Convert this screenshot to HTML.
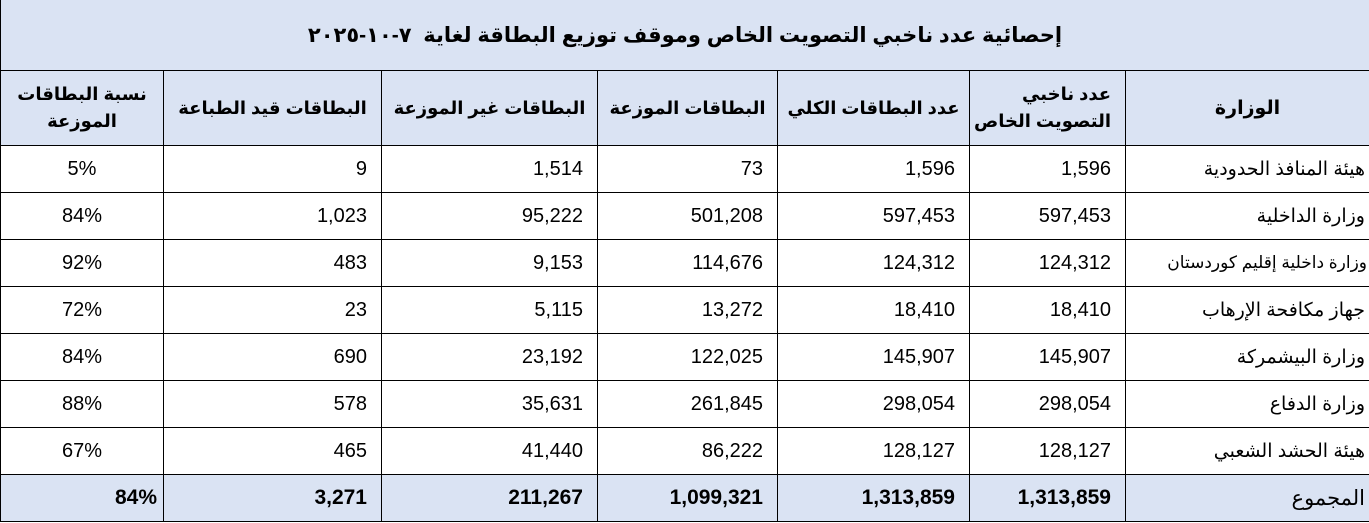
<!DOCTYPE html>
<html><head><meta charset="utf-8"><style>
html,body{margin:0;padding:0;background:#fff;}
table{position:absolute;left:0;top:0;width:1369px;border-collapse:collapse;table-layout:fixed;direction:rtl;font-family:"Liberation Sans",Arial,"DejaVu Sans",sans-serif;font-size:20px;color:#000;}
td{border:1.5px solid #000;padding:0 14px 0 14px;text-align:right;height:46px;white-space:nowrap;overflow:hidden;}
td.a{padding-right:4px;font-size:19px;}
.t td{height:70px;background:#dae3f3;text-align:center;font-weight:bold;font-size:21px;border-top:none;}
.h td{height:74px;background:#dae3f3;font-weight:bold;font-size:18px;text-align:center;line-height:27px;padding:0 4px;}
.f td{background:#dae3f3;font-weight:bold;font-size:21px;}
td.p{text-align:center;direction:ltr;}
.f td.p{text-align:right;padding-right:6px;}
</style></head><body>
<table>
<colgroup><col style="width:244px"><col style="width:156px"><col style="width:192px"><col style="width:180px"><col style="width:216px"><col style="width:218px"><col style="width:163px"></colgroup>
<tr class="t"><td colspan="7">إحصائية عدد ناخبي التصويت الخاص وموقف توزيع البطاقة لغاية &nbsp;٧-١٠-٢٠٢٥</td></tr>
<tr class="h"><td style="font-size:19px">الوزارة</td><td style="text-align:right;padding-right:14px">عدد ناخبي<br>التصويت الخاص</td><td>عدد البطاقات الكلي</td><td>البطاقات الموزعة</td><td>البطاقات غير الموزعة</td><td>البطاقات قيد الطباعة</td><td>نسبة البطاقات<br>الموزعة</td></tr>
</table>
<table style="top:145px">
<colgroup><col style="width:244px"><col style="width:156px"><col style="width:192px"><col style="width:180px"><col style="width:216px"><col style="width:218px"><col style="width:163px"></colgroup>
<tr><td class="a">هيئة المنافذ الحدودية</td><td>1,596</td><td>1,596</td><td>73</td><td>1,514</td><td>9</td><td class="p">5%</td></tr>
<tr><td class="a">وزارة الداخلية</td><td>597,453</td><td>597,453</td><td>501,208</td><td>95,222</td><td>1,023</td><td class="p">84%</td></tr>
<tr><td class="a" style="font-size:17px;padding-right:2px">وزارة داخلية إقليم كوردستان</td><td>124,312</td><td>124,312</td><td>114,676</td><td>9,153</td><td>483</td><td class="p">92%</td></tr>
<tr><td class="a">جهاز مكافحة الإرهاب</td><td>18,410</td><td>18,410</td><td>13,272</td><td>5,115</td><td>23</td><td class="p">72%</td></tr>
<tr><td class="a">وزارة البيشمركة</td><td>145,907</td><td>145,907</td><td>122,025</td><td>23,192</td><td>690</td><td class="p">84%</td></tr>
<tr><td class="a">وزارة الدفاع</td><td>298,054</td><td>298,054</td><td>261,845</td><td>35,631</td><td>578</td><td class="p">88%</td></tr>
<tr><td class="a">هيئة الحشد الشعبي</td><td>128,127</td><td>128,127</td><td>86,222</td><td>41,440</td><td>465</td><td class="p">67%</td></tr>
<tr class="f"><td class="a" style="font-weight:normal">المجموع</td><td>1,313,859</td><td>1,313,859</td><td>1,099,321</td><td>211,267</td><td>3,271</td><td class="p">84%</td></tr>
</table>
</body></html>
